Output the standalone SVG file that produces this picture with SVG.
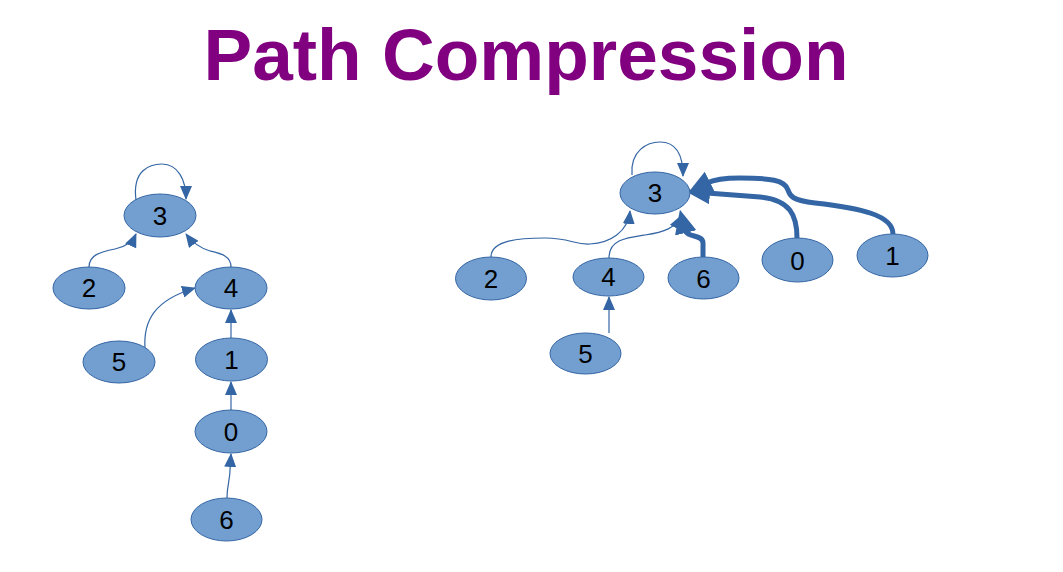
<svg xmlns="http://www.w3.org/2000/svg" width="1063" height="572" viewBox="0 0 1063 572">
<style>
.n ellipse{fill:#729fcf;stroke:#3465a4;stroke-width:1}
.n text{font-family:"Liberation Sans",Arial,sans-serif;font-size:26px;fill:#000;text-anchor:middle}
.e path{fill:none;stroke:#3465a4;stroke-width:1.2}
.e path.t{stroke-width:5}
.title{font-family:"Liberation Sans",Arial,sans-serif;font-weight:bold;font-size:73px;fill:#800080;text-anchor:middle}
</style>
<defs>
<marker id="a" markerUnits="userSpaceOnUse" markerWidth="14" markerHeight="12" refX="13" refY="6" orient="auto"><path d="M0,0 L14,6 L0,12 z" fill="#3465a4"/></marker>
<marker id="b" markerUnits="userSpaceOnUse" markerWidth="24" markerHeight="24" refX="3" refY="12" orient="auto"><path d="M0,1 L24,12 L0,23 z" fill="#3465a4"/></marker>
</defs>
<rect width="1063" height="572" fill="#fff"/>
<text class="title" x="526" y="80">Path Compression</text>
<g class="e" id="connectors">
<path d="M136,200 C132,170 150,164 162,164 C178,164 186,180 186,199" marker-end="url(#a)"/>
<path d="M89,267 C89,255 100,252 115,249 C125,247 132,243 136,234" marker-end="url(#a)"/>
<path d="M231,267 C231,256 222,254 210,251 C200,248 192,242 186,234" marker-end="url(#a)"/>
<path d="M145,349 C143,320 155,300 195,288" marker-end="url(#a)"/>
<path d="M231,338 L231,310" marker-end="url(#a)"/>
<path d="M231,410 L231,382" marker-end="url(#a)"/>
<path d="M227,498 C227,485 230,480 230,470 L231,454" marker-end="url(#a)"/>
<path d="M632,175 C630,150 648,142 660,142 C676,142 683,155 683,176" marker-end="url(#a)"/>
<path d="M491,257 C491,240 520,238 545,238 C570,238 575,245 590,244 C610,243 628,232 630,211" marker-end="url(#a)"/>
<path d="M609,258 C609,240 625,238 645,235 C665,232 675,228 681,216" marker-end="url(#a)"/>
<path d="M609,333 L609,297" marker-end="url(#a)"/>
<path class="t" d="M703,257 L703,243 C703,234 687,238 685,230" marker-end="url(#b)"/>
<path class="t" d="M797,238 C797,215 790,200 760,197 L707,193" marker-end="url(#b)"/>
<path class="t" d="M893,234 C893,215 860,208 815,203 C790,200 790,195 788,190 C785,180 770,178 740,178 C725,178 715,179 707,183" marker-end="url(#b)"/>
</g>
<g class="n" id="L3"><ellipse cx="160" cy="215.5" rx="36" ry="21.5"/><text x="160" y="225">3</text></g>
<g class="n" id="L2"><ellipse cx="89" cy="288" rx="36" ry="21"/><text x="89" y="297">2</text></g>
<g class="n" id="L4"><ellipse cx="231" cy="288" rx="36" ry="21"/><text x="231" y="297">4</text></g>
<g class="n" id="L5"><ellipse cx="119" cy="362" rx="36" ry="21"/><text x="119" y="371">5</text></g>
<g class="n" id="L1"><ellipse cx="231.5" cy="359.5" rx="36" ry="21.5"/><text x="231.5" y="369">1</text></g>
<g class="n" id="L0"><ellipse cx="231" cy="431.5" rx="36" ry="21.5"/><text x="231" y="441">0</text></g>
<g class="n" id="L6"><ellipse cx="226.5" cy="519.5" rx="35.5" ry="21.5"/><text x="226.5" y="529">6</text></g>
<g class="n" id="R3"><ellipse cx="655" cy="193" rx="35" ry="21"/><text x="655" y="202">3</text></g>
<g class="n" id="R2"><ellipse cx="491" cy="278.5" rx="35.5" ry="21.5"/><text x="491" y="288">2</text></g>
<g class="n" id="R4"><ellipse cx="608.5" cy="277" rx="35.5" ry="19"/><text x="608.5" y="286">4</text></g>
<g class="n" id="R5"><ellipse cx="585.5" cy="353.5" rx="35.5" ry="20.5"/><text x="585.5" y="363">5</text></g>
<g class="n" id="R6"><ellipse cx="703.5" cy="278" rx="35.5" ry="21"/><text x="703.5" y="288">6</text></g>
<g class="n" id="R0"><ellipse cx="797.5" cy="260" rx="35.5" ry="22"/><text x="797.5" y="270">0</text></g>
<g class="n" id="R1"><ellipse cx="892.5" cy="255.5" rx="35.5" ry="21.5"/><text x="892.5" y="265">1</text></g>
</svg>
